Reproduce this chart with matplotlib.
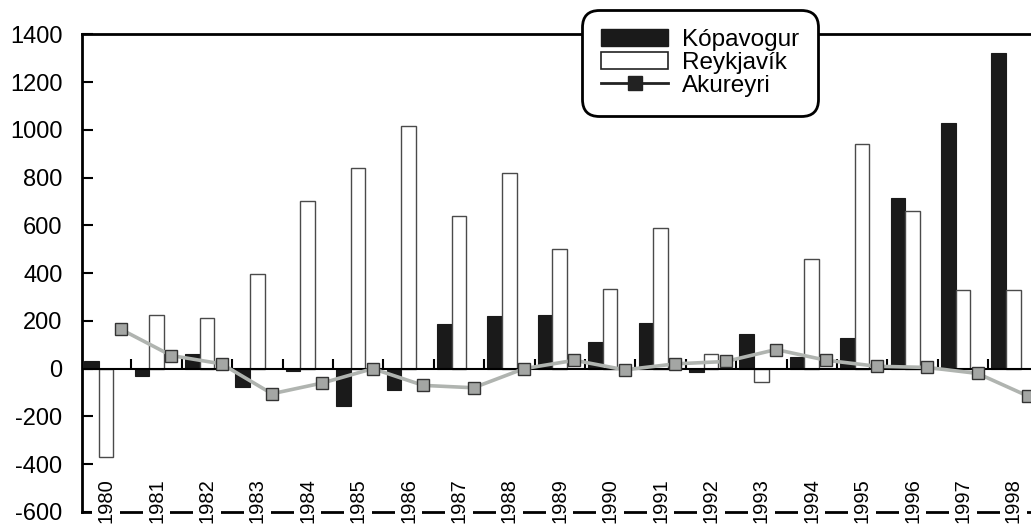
import matplotlib.pyplot as plt
from matplotlib.patches import Patch
from matplotlib.lines import Line2D
import numpy as np

plt.rcParams['font.family'] = ['Liberation Sans', 'DejaVu Sans']
plt.rcParams['axes.unicode_minus'] = False

years = list(range(1980, 1999))
kopavogur = [30, -30, 60, -75, -10, -155, -90, 185, 220, 225, 110, 190, -15, 145, 50, 130, 715, 1030, 1320]
reykjavik = [-370, 225, 210, 395, 700, 840, 1015, 640, 820, 500, 335, 590, 60, -55, 460, 940, 660, 330, 330]
akureyri = [165, 55, 20, -105, -60, 0, -70, -80, 0, 35, -5, 20, 30, 80, 35, 10, 5, -20, -115]

x = np.arange(len(years))
w = 0.29

fig = plt.figure(figsize=(10.31, 5.25), dpi=100)
ax = fig.add_axes([0.0795, 0.0248, 0.9205, 0.91])

ax.bar(x - w, kopavogur, w, color='#1a1a1a', edgecolor='#1a1a1a', linewidth=0.8, zorder=2)
ax.bar(x, reykjavik, w, color='white', edgecolor='#4a4a4a', linewidth=1.0, zorder=2)
ax.axhline(0, color='black', lw=1.5, zorder=2.6)
ax.vlines(x[:-1] + 0.5, 0, 40, color='black', lw=1.5, zorder=2.6)
ax.plot(x + w, akureyri, color='#b0b4b0', lw=2.6, marker='s', markersize=9,
        markerfacecolor='#a4a6a4', markeredgecolor='#333333', markeredgewidth=1.0,
        zorder=4, clip_on=False)

ax.set_xlim(-0.48, 18.35)
ax.set_ylim(-600, 1400)
ax.set_yticks(range(-600, 1401, 200))
ax.tick_params(axis='y', direction='in', length=8, width=1.5, pad=14, labelsize=17)
ax.set_xticks([])
for s in ['left', 'top', 'bottom']:
    ax.spines[s].set_linewidth(2)
ax.spines['right'].set_visible(False)

# year labels sit inside the plot, over the bottom line
for i, yr in enumerate(years):
    ax.text(i, -458, str(yr), rotation=90, ha='center', va='top', fontsize=14.5,
            bbox=dict(fc='white', ec='none', pad=3), zorder=5)

handles = [Patch(facecolor='#1a1a1a', edgecolor='#1a1a1a'),
           Patch(facecolor='white', edgecolor='#222222', linewidth=1.2),
           Line2D([], [], color='#222222', lw=2, marker='s', markersize=10,
                  markerfacecolor='#222222')]
leg = ax.legend(handles, ['Kópavogur', 'Reykjavík', 'Akureyri'],
                loc='upper left', bbox_to_anchor=(0.5668, 0.9764),
                bbox_transform=fig.transFigure, fontsize=17.5,
                handlelength=2.75, handleheight=0.7, handletextpad=0.55,
                labelspacing=0.03, borderpad=0.7, borderaxespad=0,
                framealpha=1, fancybox=True)
frame = leg.get_frame()
frame.set_edgecolor('black')
frame.set_linewidth(2)
frame.set_boxstyle('round,pad=0.1,rounding_size=0.7')
leg.set_zorder(10)

plt.savefig('out.png', dpi=100)
